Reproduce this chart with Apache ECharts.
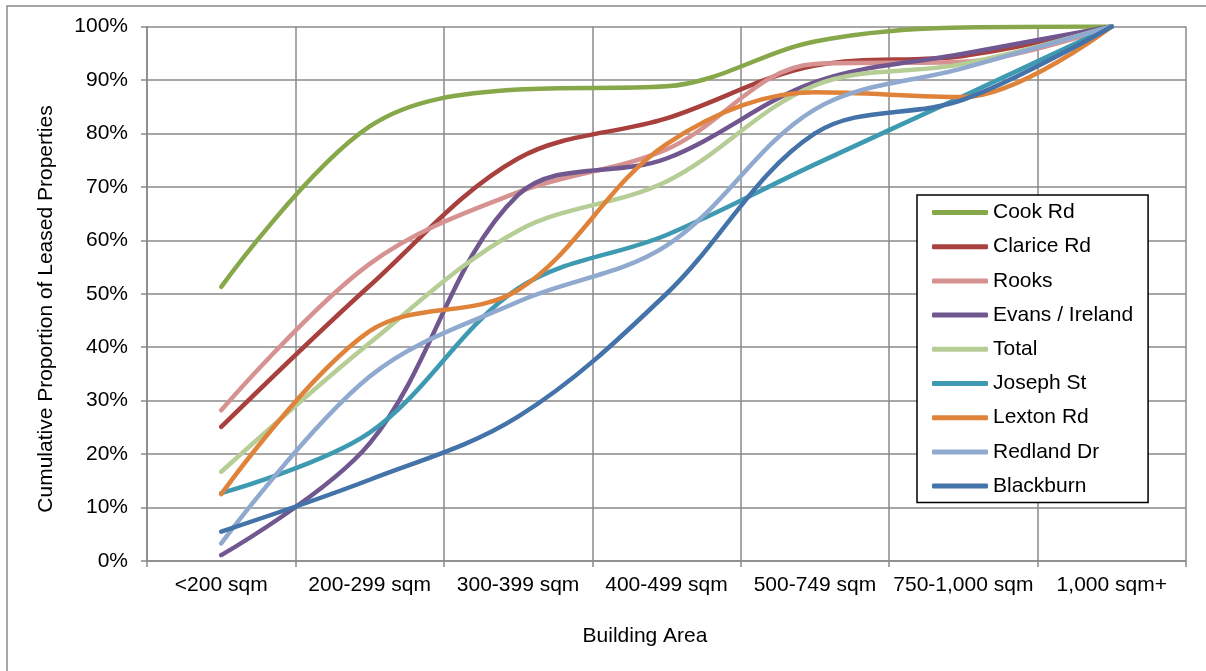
<!DOCTYPE html>
<html>
<head>
<meta charset="utf-8">
<title>Cumulative Proportion of Leased Properties by Building Area</title>
<script src="https://cdn.jsdelivr.net/npm/echarts@6/dist/echarts.min.js"></script>
<style>
  html, body { margin: 0; padding: 0; background: #fff; }
  #chart { width: 1206px; height: 671px; }
</style>
</head>
<body>
<div id="chart"></div>
<script>
// Building area bands (x axis)
const categories = ['<200 sqm', '200-299 sqm', '300-399 sqm', '400-499 sqm', '500-749 sqm', '750-1,000 sqm', '1,000 sqm+'];

// Cumulative share of leased properties, in percent, per band
const cookRd      = [51.3, 81.3, 88.2, 88.8, 97.2, 99.8, 100];
const clariceRd   = [25.1, 51.5, 75.3, 82.8, 92.7, 94.5, 100];
const rooks       = [28.2, 55.6, 69.0, 77.0, 93.0, 93.4, 100];
const evansIreland= [1.1, 22.0, 68.5, 75.3, 89.6, 94.9, 100];
const total       = [16.7, 40.8, 61.8, 71.0, 89.0, 93.0, 100];
const josephSt    = [12.7, 24.0, 51.0, 61.0, 74.2, 87.0, 100];
const lextonRd    = [12.5, 43.0, 50.7, 78.0, 87.7, 86.8, 100];
const redlandDr   = [3.3, 34.5, 48.5, 59.0, 84.5, 92.2, 100];
const blackburn   = [5.5, 15.2, 27.0, 50.0, 80.0, 86.3, 100];

// Y axis ticks
const yMin = 0, yMax = 100, yStep = 10;

const seriesDefs = [
  { name: 'Cook Rd',        data: cookRd,       color: '#87A84A' },
  { name: 'Clarice Rd',     data: clariceRd,    color: '#A8413E' },
  { name: 'Rooks',          data: rooks,        color: '#D69291' },
  { name: 'Evans / Ireland',data: evansIreland, color: '#70578F' },
  { name: 'Total',          data: total,        color: '#B6CD95' },
  { name: 'Joseph St',      data: josephSt,     color: '#3D9AB1' },
  { name: 'Lexton Rd',      data: lextonRd,     color: '#E0833A' },
  { name: 'Redland Dr',     data: redlandDr,    color: '#90A9CF' },
  { name: 'Blackburn',      data: blackburn,    color: '#4473A9' }
];

const FONT = "'Liberation Sans', Arial, sans-serif";
const FONT_SIZE = 21;
const GRID_COLOR = '#8a8a8a';

const chart = echarts.init(document.getElementById('chart'), null, { renderer: 'canvas' });

chart.setOption({
  animation: false,
  backgroundColor: '#fff',
  textStyle: { fontFamily: FONT, color: '#000' },
  grid: { left: 147, right: 20, top: 26.5, bottom: 110, containLabel: false },
  xAxis: {
    type: 'category',
    data: categories,
    boundaryGap: true,
    axisLine: { show: true, lineStyle: { color: GRID_COLOR, width: 1.5 } },
    axisTick: { show: true, length: 6, lineStyle: { color: GRID_COLOR, width: 1.5 } },
    axisLabel: { color: '#000', fontSize: FONT_SIZE, fontFamily: FONT, margin: 14, interval: 0 },
    splitLine: { show: true, lineStyle: { color: GRID_COLOR, width: 1.5 } }
  },
  yAxis: {
    type: 'value',
    min: yMin,
    max: yMax,
    interval: yStep,
    axisLine: { show: true, lineStyle: { color: GRID_COLOR, width: 1.5 } },
    axisTick: { show: true, length: 6, lineStyle: { color: GRID_COLOR, width: 1.5 } },
    axisLabel: { color: '#000', fontSize: FONT_SIZE, fontFamily: FONT, margin: 19, formatter: '{value}%' },
    splitLine: { show: true, lineStyle: { color: GRID_COLOR, width: 1.5 } }
  },
  legend: {
    orient: 'vertical',
    left: 917,
    top: 195,
    padding: [7, 15, 6, 15],
    itemGap: 13.2,
    itemWidth: 56,
    itemHeight: 5,
    icon: 'roundRect',
    backgroundColor: '#fff',
    borderColor: '#000',
    borderWidth: 1.5,
    borderRadius: 0,
    textStyle: { color: '#000', fontSize: FONT_SIZE, lineHeight: 21, fontFamily: FONT },
    data: seriesDefs.map(s => s.name),
    z: 10
  },
  graphic: [
    {
      type: 'rect',
      silent: true,
      shape: { x: 7, y: 6, width: 1215, height: 690 },
      style: { fill: 'none', stroke: '#8a8a8a', lineWidth: 1.5 },
      z: -10
    },
    {
      type: 'text',
      silent: true,
      x: 645,
      y: 636,
      style: {
        text: 'Building Area',
        fill: '#000',
        font: FONT_SIZE + 'px ' + FONT,
        align: 'center',
        verticalAlign: 'middle'
      }
    },
    {
      type: 'text',
      silent: true,
      x: 46,
      y: 309,
      rotation: Math.PI / 2,
      style: {
        text: 'Cumulative Proportion of Leased Properties',
        fill: '#000',
        font: FONT_SIZE + 'px ' + FONT,
        align: 'center',
        verticalAlign: 'middle'
      }
    }
  ],
  series: seriesDefs.map(s => ({
    name: s.name,
    type: 'line',
    data: s.data,
    smooth: 0.35,
    symbol: 'none',
    color: s.color,
    lineStyle: { color: s.color, width: 4.5, cap: 'round', join: 'round' },
    itemStyle: { color: s.color }
  }))
});
</script>
</body>
</html>
